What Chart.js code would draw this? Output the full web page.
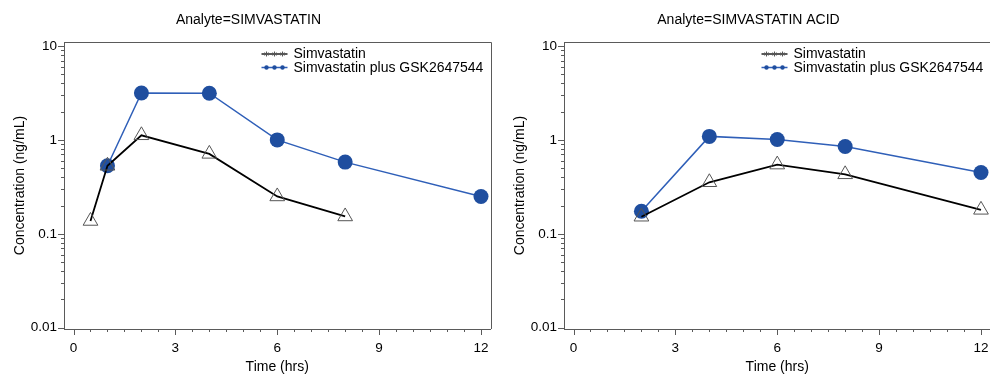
<!DOCTYPE html>
<html>
<head>
<meta charset="utf-8">
<script src="https://cdn.jsdelivr.net/npm/chart.js@4.4.1/dist/chart.umd.min.js"></script>
<style>
  html, body { margin: 0; padding: 0; overflow: hidden; background: #fff; width: 990px; height: 374px; }
  #wrap { position: relative; width: 990px; height: 374px; overflow: hidden; }
  .panel { position: absolute; top: 0; height: 374px; overflow: hidden; }
</style>
</head>
<body>
<div id="wrap">
  <div class="panel" style="left:0;width:500px"><canvas id="parent" width="500" height="374"></canvas></div>
  <div class="panel" style="left:500px;width:490px"><canvas id="acid" width="500" height="374"></canvas></div>
</div>
<script>
// Analyte = SIMVASTATIN
const timeParentAlone = [0.5, 1, 2, 4, 6, 8];
const concParentAlone = [0.137, 0.53, 1.12, 0.71, 0.25, 0.153];
const timeParentCombo = [1, 2, 4, 6, 8, 12];
const concParentCombo = [0.53, 3.16, 3.14, 1.0, 0.58, 0.25];

// Analyte = SIMVASTATIN ACID
const timeAcid = [2, 4, 6, 8, 12];
const concAcidAlone = [0.152, 0.354, 0.546, 0.43, 0.18];
const concAcidCombo = [0.174, 1.09, 1.01, 0.85, 0.449];

const seriesNames = ["Simvastatin", "Simvastatin plus GSK2647544"];
const xTickLabels = [0, 3, 6, 9, 12];
const yTickLabels = [0.01, 0.1, 1, 10];

const FONT = "'Liberation Sans', Arial, sans-serif";
const AXIS = "#5a5a5a";
const BLUE_LINE = "#2f5fb8";
const BLUE_DOT = "#1f4e9f";

function toPoints(xs, ys) {
  return xs.map((x, i) => ({ x: x, y: ys[i] }));
}

// tick marks: major long, minor short
const tickMarks = {
  id: "tickMarks",
  afterDraw(chart) {
    const ctx = chart.ctx;
    const xs = chart.scales.x, ys = chart.scales.y;
    ctx.save();
    ctx.strokeStyle = AXIS;
    ctx.lineWidth = 1;
    xs.ticks.forEach(t => {
      const px = Math.round(xs.getPixelForValue(t.value)) + 0.5;
      const len = t.major ? 6 : 3;
      ctx.beginPath();
      ctx.moveTo(px, xs.top);
      ctx.lineTo(px, xs.top + len);
      ctx.stroke();
    });
    ys.ticks.forEach(t => {
      const py = Math.round(ys.getPixelForValue(t.value)) + 0.5;
      const len = t.major ? 6 : 3;
      ctx.beginPath();
      ctx.moveTo(ys.right, py);
      ctx.lineTo(ys.right - len, py);
      ctx.stroke();
    });
    // top and right sides of the frame
    const a = chart.chartArea;
    ctx.beginPath();
    ctx.moveTo(Math.round(a.left), Math.round(a.top) + 0.5);
    ctx.lineTo(Math.round(a.right) + 0.5, Math.round(a.top) + 0.5);
    ctx.lineTo(Math.round(a.right) + 0.5, Math.round(a.bottom));
    ctx.stroke();
    ctx.restore();
  }
};

// legend inside the plot, top right
const insideLegend = {
  id: "insideLegend",
  afterDraw(chart) {
    const ctx = chart.ctx;
    const a = chart.chartArea;
    const x0 = a.right - 229, x1 = a.right - 203;
    const rows = [a.top + 12, a.top + 25.5];
    ctx.save();
    ctx.font = "14px " + FONT;
    ctx.textBaseline = "middle";
    ctx.fillStyle = "#000";
    rows.forEach((y, i) => {
      ctx.beginPath();
      ctx.strokeStyle = i === 0 ? "#222" : BLUE_LINE;
      ctx.lineWidth = 1.5;
      ctx.moveTo(x0, y);
      ctx.lineTo(x1, y);
      ctx.stroke();
      [x0 + 5, x0 + 13, x0 + 21].forEach(mx => {
        if (i === 0) {
          ctx.strokeStyle = "#555";
          ctx.lineWidth = 1;
          for (let k = 0; k < 3; k++) {
            const ang = k * Math.PI / 3;
            ctx.beginPath();
            ctx.moveTo(mx - 2.5 * Math.sin(ang), y - 2.5 * Math.cos(ang));
            ctx.lineTo(mx + 2.5 * Math.sin(ang), y + 2.5 * Math.cos(ang));
            ctx.stroke();
          }
        } else {
          ctx.beginPath();
          ctx.fillStyle = BLUE_DOT;
          ctx.arc(mx, y, 2.2, 0, Math.PI * 2);
          ctx.fill();
        }
      });
      ctx.fillStyle = "#000";
      ctx.fillText(seriesNames[i], a.right - 197, y + 0.5);
    });
    ctx.restore();
  }
};

function makeChart(id, title, alone, combo) {
  new Chart(document.getElementById(id), {
    type: "line",
    data: {
      datasets: [
        {
          label: seriesNames[0],
          data: alone,
          borderColor: "#000",
          borderWidth: 1.8,
          pointStyle: "triangle",
          pointRadius: 8.5,
          pointBackgroundColor: "rgba(0,0,0,0)",
          pointBorderColor: "#555",
          pointBorderWidth: 1,
          tension: 0
        },
        {
          label: seriesNames[1],
          data: combo,
          borderColor: BLUE_LINE,
          borderWidth: 1.5,
          pointStyle: "circle",
          pointRadius: 7.5,
          pointBackgroundColor: BLUE_DOT,
          pointBorderColor: BLUE_DOT,
          pointBorderWidth: 0,
          tension: 0
        }
      ]
    },
    options: {
      responsive: false,
      animation: false,
      events: [],
      layout: { padding: { left: 0, right: 3, top: 0, bottom: 0 } },
      plugins: {
        legend: { display: false },
        tooltip: { enabled: false },
        title: {
          display: true,
          text: title,
          color: "#000",
          font: { family: FONT, size: 14, weight: "normal", lineHeight: 1.2 },
          padding: { top: 11.6, bottom: 13.6 }
        }
      },
      scales: {
        x: {
          type: "linear",
          min: -0.28,
          max: 12.28,
          afterBuildTicks: s => {
            const t = [];
            for (let v = 0; v <= 12; v += 0.5) t.push({ value: v, major: xTickLabels.includes(v) });
            s.ticks = t;
          },
          afterFit: s => { s.height = 45; s.paddingLeft = 0; s.paddingRight = 0; },
          ticks: {
            autoSkip: false,
            maxRotation: 0,
            padding: 1,
            color: "#000",
            font: { family: FONT, size: 13.5 },
            callback: (v, i, ticks) => ticks[i].major ? String(v) : ""
          },
          grid: { display: false, drawTicks: true, tickLength: 10 },
          border: { display: true, color: AXIS, width: 1 },
          title: {
            display: true,
            text: "Time (hrs)",
            color: "#000",
            font: { family: FONT, size: 14, lineHeight: 1 },
            padding: { top: 0, bottom: 0 }
          }
        },
        y: {
          type: "logarithmic",
          min: 0.00969,
          max: 11.03,
          afterBuildTicks: s => {
            const t = [];
            yTickLabels.forEach(d => {
              for (let k = 1; k <= 9; k++) {
                const v = d * k;
                if (v <= s.max) t.push({ value: v, major: k === 1 });
              }
            });
            s.ticks = t;
          },
          afterFit: s => { s.width = 64; s.paddingTop = 0; s.paddingBottom = 0; },
          ticks: {
            autoSkip: false,
            padding: 1,
            color: "#000",
            font: { family: FONT, size: 13.5 },
            callback: (v, i, ticks) => ticks[i].major ? String(yTickLabels.find(d => Math.abs(d - v) < d * 1e-6)) : ""
          },
          grid: { display: false, drawTicks: true, tickLength: 6 },
          border: { display: true, color: AXIS, width: 1 },
          title: {
            display: true,
            text: "Concentration (ng/mL)",
            color: "#000",
            font: { family: FONT, size: 14, lineHeight: 1 },
            padding: { top: 13, bottom: 0 }
          }
        }
      }
    },
    plugins: [tickMarks, insideLegend]
  });
}

makeChart("parent", "Analyte=SIMVASTATIN",
  toPoints(timeParentAlone, concParentAlone),
  toPoints(timeParentCombo, concParentCombo));

makeChart("acid", "Analyte=SIMVASTATIN ACID",
  toPoints(timeAcid, concAcidAlone),
  toPoints(timeAcid, concAcidCombo));
</script>
</body>
</html>
